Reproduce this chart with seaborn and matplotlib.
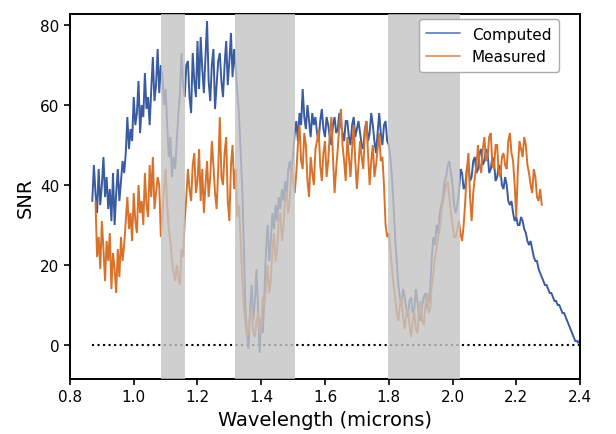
import numpy as np
import pandas as pd
import seaborn as sns
import matplotlib.pyplot as plt

computed_snr = [
    36, 45, 38, 33, 44, 35, 40, 47, 37, 42, 34, 39, 31, 43, 30, 38, 44, 36, 41, 46,
    43, 48, 57, 49, 54, 51, 62, 55, 58, 66, 53, 60, 57, 68, 59, 62, 55, 64, 72, 61,
    65, 74, 63, 70, 67, 60, 64, 55, 47, 52, 42, 47, 44, 51, 58, 63, 73, 65, 62, 70,
    71, 62, 58, 73, 66, 62, 76, 64, 77, 69, 63, 72, 81, 66, 61, 70, 74, 59, 65, 71,
    73, 66, 62, 70, 76, 65, 71, 78, 67, 74, 69, 63, 58, 49, 40, 26, 10, 3, -1, 9,
    15, 6, 11, 19, 9, -2, 7, 3, 13, 24, 30, 21, 26, 33, 29, 35, 31, 37, 34, 39,
    36, 41, 38, 44, 46, 42, 48, 53, 56, 51, 58, 55, 64, 57, 54, 60, 56, 52, 58, 55,
    57, 53, 51, 56, 59, 54, 52, 57, 55, 52, 50, 55, 57, 53, 54, 58, 55, 53, 51, 56,
    56, 52, 50, 55, 57, 52, 54, 56, 53, 50, 49, 54, 56, 51, 53, 58, 55, 51, 48, 53,
    58, 53, 50, 55, 56, 51, 50, 47, 42, 35, 27, 21, 15, 12, 10, 14, 12, 9, 7, 11,
    12, 8, 9, 14, 11, 7, 6, 10, 12, 13, 9, 11, 14, 22, 27, 25, 30, 28, 33, 35,
    37, 41, 42, 45, 46, 43, 40, 35, 33, 35, 38, 44, 43, 39, 40, 44, 45, 41, 42, 46,
    47, 43, 44, 48, 49, 45, 46, 49, 48, 43, 44, 47, 46, 41, 42, 45, 44, 40, 39, 42,
    40, 36, 35, 36, 33, 31, 32, 30, 30, 32, 31, 29, 28, 26, 25, 26, 24, 22, 21, 21,
    19, 18, 17, 16, 15, 15, 14, 13, 13, 12, 11, 11, 10, 10, 9, 8, 8, 7, 6, 5,
    4, 3, 2, 1, 1, 0.5, 1.5,
]
measured_snr = [
    36, 22, 27, 19, 31, 24, 16, 26, 21, 28, 14, 23, 19, 13, 24, 17, 27, 21, 25, 31,
    37, 29, 33, 26, 38, 31, 28, 40, 33, 36, 30, 43, 35, 32, 45, 37, 47, 34, 38, 42,
    40, 27, 33, 39, 44, 35, 29, 26, 21, 18, 16, 20, 17, 15, 24, 22, 31, 37, 44, 39,
    36, 45, 48, 38, 41, 49, 36, 44, 33, 40, 46, 37, 42, 51, 45, 38, 34, 44, 57, 42,
    40, 48, 52, 36, 31, 45, 50, 39, 44, 32, 35, 27, 17, 10, 6, 2, 4, 8, 9, 3,
    2, 6, 8, 3, 4, 12, 10, 14, 20, 13, 16, 24, 28, 21, 24, 31, 33, 26, 30, 37,
    38, 33, 37, 45, 41, 38, 43, 50, 55, 46, 44, 53, 50, 41, 37, 47, 43, 40, 49, 51,
    54, 45, 41, 48, 51, 42, 46, 53, 57, 47, 38, 44, 49, 55, 59, 50, 46, 41, 52, 47,
    42, 49, 55, 46, 39, 45, 51, 47, 44, 53, 56, 48, 40, 46, 50, 42, 45, 49, 53, 46,
    47, 40, 30, 27, 28, 24, 19, 15, 12, 8, 6, 10, 12, 7, 4, 8, 9, 5, 2, 6,
    8, 4, 3, 9, 11, 6, 5, 10, 13, 8, 9, 15, 18, 22, 24, 27, 29, 33, 36, 38,
    40, 41, 37, 33, 30, 27, 27, 29, 31, 28, 26, 30, 36, 44, 48, 37, 31, 38, 42, 45,
    50, 45, 43, 49, 52, 46, 47, 52, 53, 45, 44, 50, 50, 43, 42, 47, 48, 45, 44, 51,
    53, 48, 46, 40, 32, 44, 51, 49, 47, 52, 50, 45, 43, 40, 38, 44, 42, 37, 36, 39,
    35,
]
computed_wl = np.linspace(0.87, 2.40, len(computed_snr))
measured_wl = np.linspace(0.88, 2.28, len(measured_snr))

# telluric absorption bands (microns)
bands = [(1.087, 1.161), (1.318, 1.505), (1.798, 2.022)]

df = pd.concat([
    pd.DataFrame({"wl": computed_wl, "snr": computed_snr, "kind": "Computed"}),
    pd.DataFrame({"wl": measured_wl, "snr": measured_snr, "kind": "Measured"}),
])

sns.set_style("ticks")
plt.rcParams["font.family"] = ["DejaVu Sans"]

fig = plt.figure(figsize=(6.16, 4.35), dpi=100)
ax = fig.add_axes([0.1136, 0.1264, 0.828, 0.839])

palette = {"Computed": "#3a5ba0", "Measured": "#d8722a"}
sns.lineplot(data=df, x="wl", y="snr", hue="kind", palette=palette,
             estimator=None, linewidth=1.4, solid_joinstyle="miter",
             ax=ax, zorder=2)

ax.plot(computed_wl[[0, -1]], [0, 0], color="black", linestyle=":",
        linewidth=1.5, zorder=1)

for lo, hi in bands:
    ax.axvspan(lo, hi, color="#c4c4c4", alpha=0.8, zorder=3, linewidth=0)

ax.set_xlim(0.8, 2.4)
ax.set_ylim(-8.5, 82.75)
ax.set_xticks(np.arange(0.8, 2.41, 0.2))
ax.set_yticks([0, 20, 40, 60, 80])
ax.tick_params(labelsize=11, length=4, width=1.2, color="black",
               labelcolor="black")
for s in ax.spines.values():
    s.set_linewidth(1.4)
    s.set_color("black")
ax.set_xlabel("Wavelength (microns)", fontsize=14, color="black")
ax.set_ylabel("SNR", fontsize=14, color="black")

leg = ax.legend(loc="upper right", fontsize=11, frameon=True, fancybox=True,
                framealpha=1, facecolor="white", edgecolor="#aaaaaa",
                bbox_to_anchor=(0.965, 0.995), borderaxespad=0.2,
                handlelength=2.2, borderpad=0.5, labelspacing=0.5)
leg.set_zorder(5)
for h in leg.get_lines():
    h.set_linewidth(1.3)
    h.set_alpha(0.75)
for t in leg.get_texts():
    t.set_color("black")

fig.savefig("out.png", dpi=100)
